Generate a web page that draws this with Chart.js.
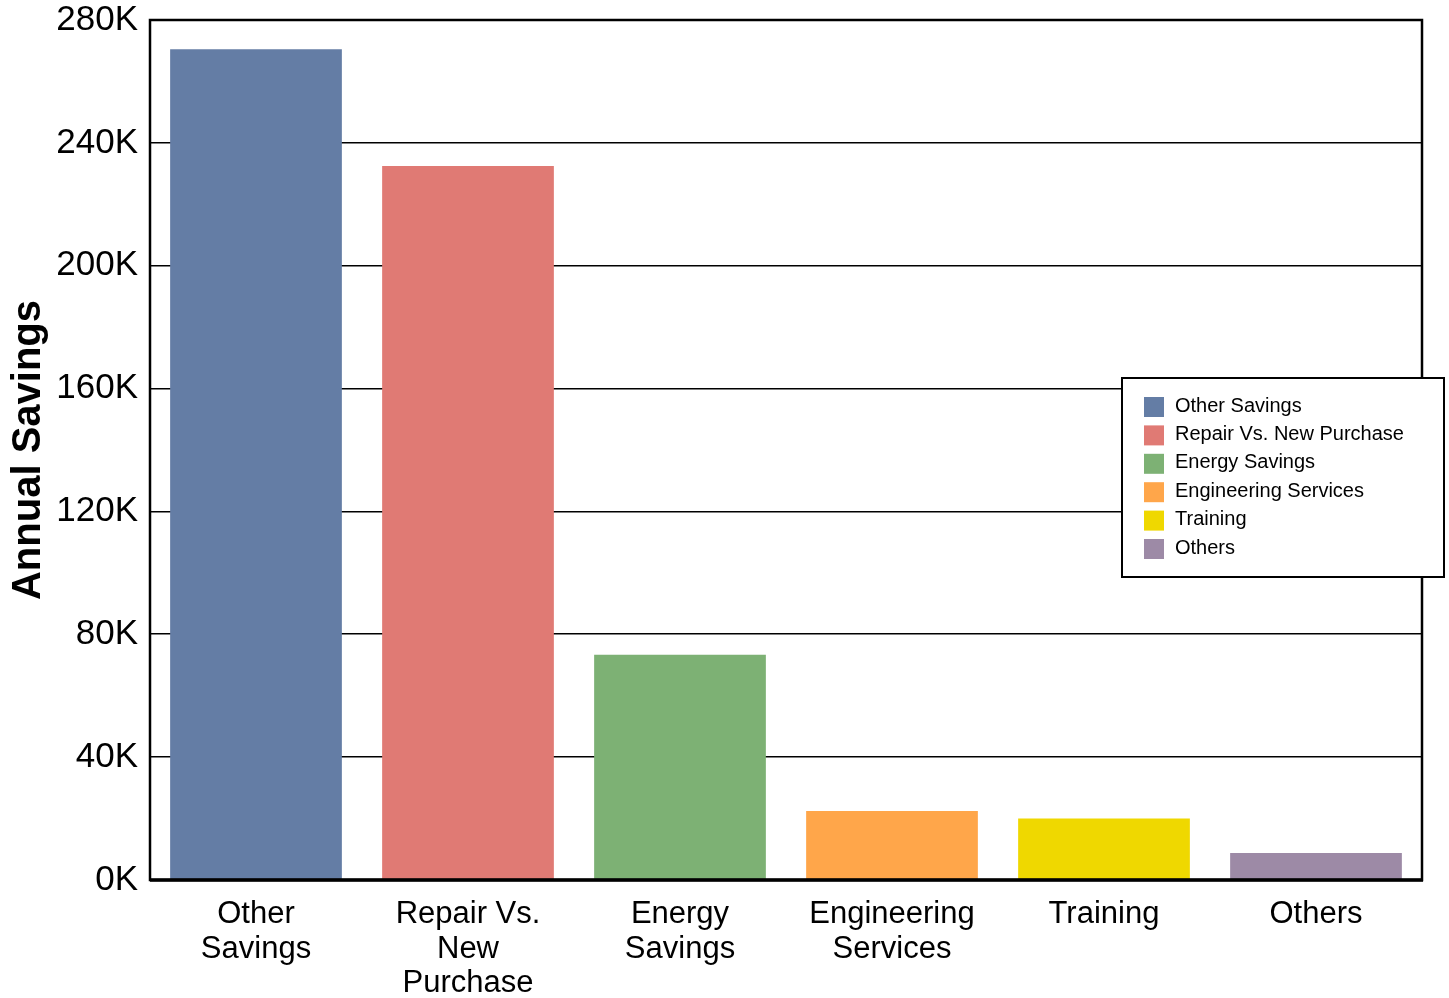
<!DOCTYPE html>
<html>
<head>
<meta charset="utf-8">
<script src="https://cdn.jsdelivr.net/npm/chart.js@4.4.0/dist/chart.umd.min.js"></script>
<style>
  html, body { margin: 0; padding: 0; background: #fff; }
  canvas { display: block; }
</style>
</head>
<body>
<canvas id="savingsChart" width="1449" height="998"></canvas>
<script>
const categories = ["Other Savings", "Repair Vs. New Purchase", "Energy Savings", "Engineering Services", "Training", "Others"];
const tickLabels = [["Other", "Savings"], ["Repair Vs.", "New", "Purchase"], ["Energy", "Savings"], ["Engineering", "Services"], ["Training"], ["Others"]];
const savings = [270500, 232500, 73300, 22500, 20000, 8800];
const barColors = ["#647da5", "#e07a74", "#7db174", "#ffa64a", "#efd800", "#9d8aa6"];

const fontFamily = "'Liberation Sans', Arial, sans-serif";

// frame round the plot area
const framePlugin = {
  id: "frame",
  afterDatasetsDraw(chart) {
    const { ctx, chartArea } = chart;
    ctx.save();
    ctx.strokeStyle = "#000";
    ctx.lineWidth = 2.5;
    ctx.strokeRect(chartArea.left, chartArea.top, chartArea.right - chartArea.left, chartArea.bottom - chartArea.top);
    ctx.lineWidth = 3.5;
    ctx.beginPath();
    ctx.moveTo(chartArea.left, chartArea.bottom);
    ctx.lineTo(chartArea.right + 1, chartArea.bottom);
    ctx.stroke();
    ctx.restore();
  }
};

// legend box sitting over the right side of the plot
const boxLegend = {
  id: "boxLegend",
  afterDraw(chart) {
    const ctx = chart.ctx;
    const x = 1122, y = 378, w = 322, h = 199;
    ctx.save();
    ctx.fillStyle = "#fff";
    ctx.fillRect(x, y, w, h);
    ctx.strokeStyle = "#000";
    ctx.lineWidth = 2;
    ctx.strokeRect(x, y, w, h);
    ctx.font = "20px " + fontFamily;
    ctx.textBaseline = "middle";
    categories.forEach((name, i) => {
      const cy = 407 + i * 28.4;
      ctx.fillStyle = barColors[i];
      ctx.fillRect(1144, cy - 10, 20, 20);
      ctx.fillStyle = "#000";
      ctx.fillText(name, 1175, cy - 1);
    });
    ctx.restore();
  }
};

new Chart(document.getElementById("savingsChart"), {
  type: "bar",
  data: {
    labels: tickLabels,
    datasets: [{
      label: "Annual Savings",
      data: savings,
      backgroundColor: barColors,
      categoryPercentage: 0.81,
      barPercentage: 1.0
    }]
  },
  options: {
    responsive: false,
    animation: false,
    layout: { padding: { top: 20, right: 27, left: 0, bottom: 0 } },
    plugins: {
      legend: { display: false },
      tooltip: { enabled: false }
    },
    scales: {
      x: {
        grid: { display: false, drawTicks: false },
        border: { display: false },
        ticks: {
          color: "#000",
          font: { family: fontFamily, size: 31, lineHeight: 1.12 },
          padding: 17,
          maxRotation: 0,
          autoSkip: false
        },
        afterFit(scale) {
          scale.height = 118;
          scale.paddingLeft = 0;
          scale.paddingRight = 0;
        }
      },
      y: {
        min: 0,
        max: 280000,
        grid: { color: "#000", lineWidth: 1.6, drawTicks: false },
        border: { display: false },
        ticks: {
          stepSize: 40000,
          color: "#000",
          padding: 12,
          font: { family: fontFamily, size: 35 },
          callback: v => (v / 1000) + "K"
        },
        title: {
          display: true,
          text: "Annual Savings",
          color: "#000",
          font: { family: fontFamily, size: 40, weight: "bold" },
          padding: { top: 5, bottom: 4 }
        },
        afterFit(scale) {
          scale.width = 150;
          scale.paddingTop = 0;
          scale.paddingBottom = 0;
        }
      }
    }
  },
  plugins: [framePlugin, boxLegend]
});
</script>
</body>
</html>
